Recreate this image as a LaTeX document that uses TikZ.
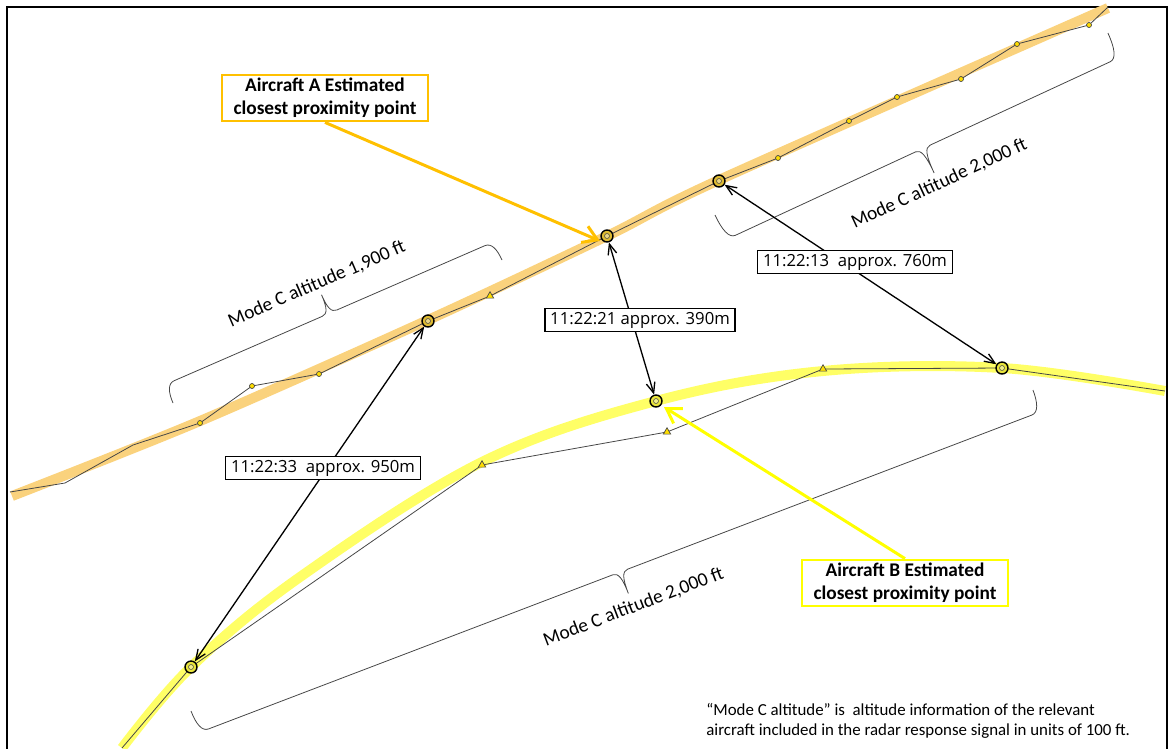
\documentclass[tikz,border=0pt]{standalone}
\usepackage{fontspec}
\setmainfont{Carlito}
\newfontfamily\uifont{Open Sans}
\usepackage{tikz}
\usetikzlibrary{arrows.meta, positioning, shapes.geometric, calc}
\definecolor{aband}{RGB}{250, 210, 125}
\definecolor{bband}{RGB}{255, 255, 102}
\definecolor{acall}{RGB}{255, 192, 0}
\definecolor{bcall}{RGB}{255, 255, 0}
\definecolor{amark}{RGB}{222, 186, 50}
\definecolor{bmark}{RGB}{232, 228, 60}
\definecolor{dotyel}{RGB}{255, 221, 0}
\definecolor{trk}{RGB}{70, 70, 70}

% brace: start, angle, length, depth, tip name
\newcommand{\altbrace}[5]{%
  \begin{scope}[shift={#1}, rotate=#2]
    \pgfmathsetmacro{\bh}{#4}
    \pgfmathsetmacro{\bm}{#3/2}
    \pgfmathsetmacro{\bl}{#3}
    \draw[bracket] (0,0) .. controls (0,0.6*\bh) and (3,\bh) .. (10,\bh)
      -- (\bm-8,\bh) .. controls (\bm-2,\bh) and (\bm,1.3*\bh) .. (\bm,2*\bh)
      .. controls (\bm,1.3*\bh) and (\bm+2,\bh) .. (\bm+8,\bh)
      -- (\bl-10,\bh) .. controls (\bl-3,\bh) and (\bl,0.6*\bh) .. (\bl,0);
    \coordinate (#5) at (\bm,2*\bh);
  \end{scope}}

\begin{document}
\begin{tikzpicture}[
    x=0.02cm, y=-0.02cm,
    bandpath/.style={line width=0.2cm, line cap=butt},
    trackline/.style={draw=trk, line width=0.45pt},
    dotmark/.style={circle, draw=trk, line width=0.4pt, fill=dotyel, inner sep=0, minimum size=0.1cm},
    trimark/.style={regular polygon, regular polygon sides=3, draw=trk, line width=0.4pt, fill=dotyel, inner sep=0, minimum size=0.17cm},
    bigmark/.style={circle, draw=black, line width=0.8pt, fill=#1, inner sep=0, minimum size=0.24cm,
        path picture={\draw[trk, line width=0.3pt, fill=#1!60!white] (path picture bounding box.center) circle (0.05cm);}},
    dist/.style={{Straight Barb[length=6pt, width=5pt]}-{Straight Barb[length=6pt, width=5pt]}, line width=0.75pt},
    timebox/.style={draw=black, line width=0.7pt, fill=white, font=\uifont\fontsize{9.5}{11}\selectfont, inner xsep=3pt, inner ysep=2pt},
    callbox/.style={draw=#1, line width=1.6pt, fill=white, font=\bfseries\fontsize{11}{13}\selectfont, align=center,
        minimum width=4.12cm, minimum height=0.92cm, inner sep=0},
    callout/.style={draw=#1, line width=1.7pt, -{Straight Barb[length=8pt, width=10pt]}},
    bracket/.style={draw=trk, line width=0.45pt},
    bracelabel/.style={font=\fontsize{11}{13}\selectfont, inner sep=2pt},
    frame/.style={line width=1.1pt},
]
    \useasboundingbox (0,0) rectangle (1175,748);
    \draw[frame] (7,760) -- (7,7) -- (1167,7) -- (1167,760);

    % Estimated tracks
    \draw[bandpath, aband] plot[smooth, tension=0.5] coordinates {(12,496) (200,421) (428,320) (607,236) (719,180) (1108,8)};
    \draw[bandpath, bband] plot[smooth, tension=0.6] coordinates {(122,748) (191,667) (300,577) (482,462) (656,401) (823,371) (1002,368) (1165,391)};

    % Radar returns
    \draw[trackline] (10,492) -- (65,483) -- (133,445) -- (200,423) -- (252,386) -- (319,374) -- (428,321)
        -- (490,296) -- (607,236) -- (719,181) -- (778,158) -- (849,121) -- (897,97) -- (961,79)
        -- (1017,44) -- (1089,25) -- (1108,7);
    \draw[trackline] (122,748) -- (191,667) -- (482,465) -- (667,432) -- (823,369) -- (1002,368) -- (1165,391);

    % Mode C braces
    \altbrace{(173,403)}{23.49}{358.7}{-20}{tip1}
    \altbrace{(715,215)}{24.85}{433}{27}{tip2}
    \altbrace{(191,711)}{20.87}{901.1}{23}{tip3}
    \node[bracelabel, rotate=23.49, anchor=south] (lab1) at (tip1) {Mode C altitude 1,900 ft};
    \node[bracelabel, rotate=24.85, anchor=north] (lab2) at (tip2) {Mode C altitude 2,000 ft};
    \node[bracelabel, rotate=20.87, anchor=north, inner sep=3.5pt] (lab3) at (tip3) {Mode C altitude 2,000 ft};

    % Markers
    \foreach \p [count=\i] in {(200,423), (252,386), (319,374), (778,158), (849,121), (897,97), (961,79), (1017,44), (1089,25)} {
        \node[dotmark] (ad\i) at \p {};
    }
    \foreach \p [count=\i] in {(490,296), (482,465), (667,432), (823,369)} {
        \node[trimark] (tr\i) at \p {};
    }
    \node[bigmark=amark] (a1) at (428,321) {};
    \node[bigmark=amark] (a2) at (607,236) {};
    \node[bigmark=amark] (a3) at (719,181) {};
    \node[bigmark=bmark] (b1) at (191,667) {};
    \node[bigmark=bmark] (b2) at (656,401) {};
    \node[bigmark=bmark] (b3) at (1002,368) {};

    % Separations
    \draw[dist] (a1) -- (b1);
    \draw[dist] (a2) -- (b2);
    \draw[dist] (a3) -- (b3);
    \node[timebox] (t33) at (323,468) {11:22:33~~approx. 950m};
    \node[timebox] (t21) at (640,320) {11:22:21 approx. 390m};
    \node[timebox] (t13) at (855,262) {11:22:13~~approx. 760m};

    % Closest proximity callouts
    \node[callbox=acall] (boxA) at (325,98) {Aircraft A Estimated\\closest proximity point};
    \node[callbox=bcall] (boxB) at (905,583) {Aircraft B Estimated\\closest proximity point};
    \coordinate (pA) at (600,241);
    \coordinate (pB) at (664,407);
    \draw[callout=acall] (boxA.south) -- (pA);
    \draw[callout=bcall] (boxB.north) -- (pB);

    % Note
    \node[anchor=north west, inner sep=0, align=left, font=\fontsize{9.6}{11.5}\selectfont] (note) at (706,703)
        {“Mode C altitude” is\ \ altitude information of the relevant\\aircraft included in the radar response signal in units of 100 ft.};
\end{tikzpicture}
\end{document}
